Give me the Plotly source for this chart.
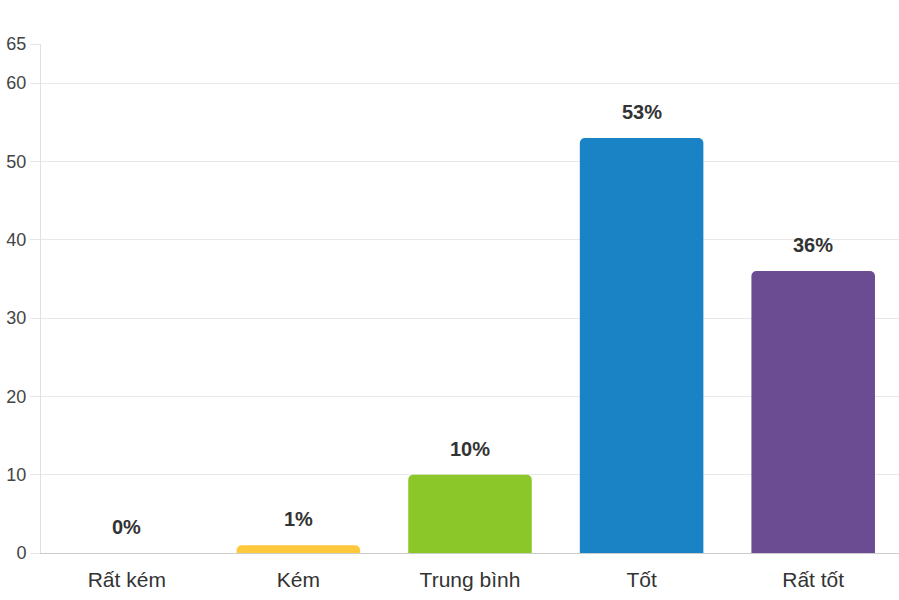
import plotly.graph_objects as go

# data
categories = ["Rất kém", "Kém", "Trung bình", "Tốt", "Rất tốt"]
values = [0, 1, 10, 53, 36]
bar_colors = ["#E0E0E0", "#FFC83D", "#8CC729", "#1A83C6", "#6B4C93"]
y_ticks = [0, 10, 20, 30, 40, 50, 60, 65]

FONT = "Arial, Liberation Sans, sans-serif"

fig = go.Figure()

fig.add_trace(go.Bar(
    x=categories,
    y=values,
    marker=dict(color=bar_colors, line=dict(width=0)),
    width=0.72,
    hoverinfo="x+y",
    showlegend=False,
))

# value labels above the bars
for cat, val in zip(categories, values):
    fig.add_annotation(
        x=cat, y=val,
        text="<b>%d%%</b>" % val,
        showarrow=False,
        yanchor="bottom",
        yshift=13,
        font=dict(family=FONT, size=20, color="#333333"),
    )

fig.update_layout(
    width=899,
    height=600,
    margin=dict(l=41, r=0, t=44, b=47, autoexpand=False),
    plot_bgcolor="white",
    paper_bgcolor="white",
    barcornerradius=5,
    font=dict(family=FONT),
    xaxis=dict(
        showgrid=False,
        zeroline=False,
        showline=True,
        linecolor="#cccccc",
        linewidth=1,
        ticks="",
        ticklabelstandoff=8,
        tickfont=dict(family=FONT, size=21, color="#333333"),
    ),
    yaxis=dict(
        range=[0, 65],
        tickvals=y_ticks,
        showgrid=True,
        gridcolor="#e8e8e8",
        zeroline=False,
        showline=True,
        linecolor="#e0e0e0",
        ticks="outside",
        ticklen=10,
        tickcolor="#e6e6e6",
        tickfont=dict(family=FONT, size=18, color="#444444"),
    ),
)

# drop the page's default body margin so the figure sits at the corner
fig.write_html(
    "out.html",
    config={"responsive": False, "displayModeBar": False},
    post_script="document.body.style.margin='0';",
)
